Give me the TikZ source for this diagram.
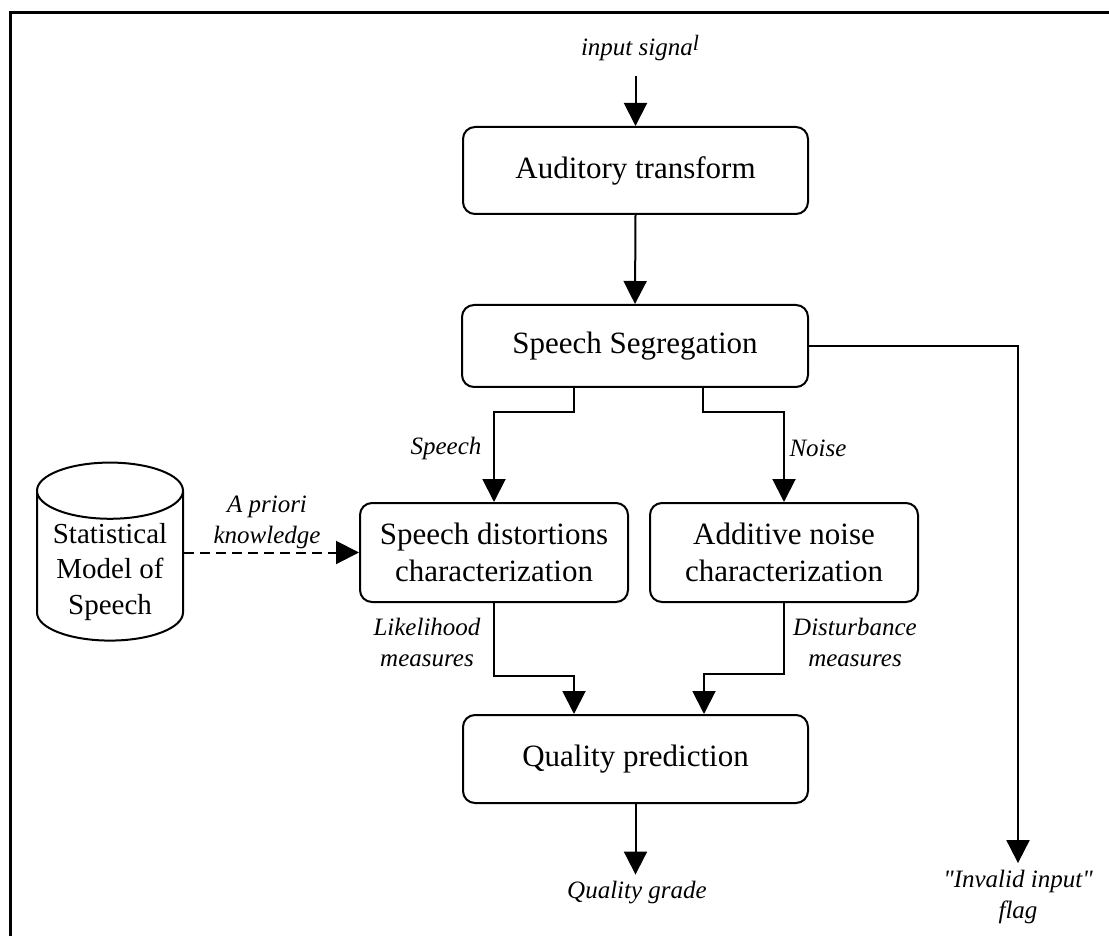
\documentclass[tikz,border=0pt]{standalone}
\usepackage{fontspec}
\setmainfont{Liberation Serif}[Ligatures=TeXOff]
\usetikzlibrary{arrows.meta,shapes.geometric}

\begin{document}
\begin{tikzpicture}[x=0.5pt,y=-0.5pt,
    blk/.style={draw, line width=1pt, rounded corners=6pt, align=center,
        font=\fontsize{15.5}{18.5}\selectfont},
    lbl/.style={align=center, font=\fontsize{12.5}{15.5}\selectfont\itshape},
    arr/.style={line width=1pt, -{Triangle[width=11.5pt,length=11.5pt]}}]
    \useasboundingbox (0,0) rectangle (1109,936);
    \draw[line width=1.5pt] (10,936) -- (10,13) -- (1109,13);

    % blocks
    \node[blk, minimum width=172.5pt, minimum height=43.5pt] (aud) at (635.5,170.5) {Auditory transform};
    \node[blk, minimum width=173pt, minimum height=41pt] (seg) at (635,346) {Speech Segregation};
    \node[blk, minimum width=134pt, minimum height=49.5pt] (sd) at (494,552.5) {Speech distortions\\characterization};
    \node[blk, minimum width=134pt, minimum height=49.5pt] (an) at (784,552.5) {Additive noise\\characterization};
    \node[blk, minimum width=172.5pt, minimum height=44pt] (qp) at (635.5,759) {Quality prediction};
    \node[draw, cylinder, shape border rotate=90, aspect=0.44, line width=1pt, align=center,
        minimum width=73pt, minimum height=89pt, inner ysep=1pt,
        font=\fontsize{14.5}{17.75}\selectfont] (stat) at (110,572) {Statistical\\Model of\\Speech};

    % labels
    \node[lbl] (insig) at (640,48) {input signa\raisebox{0.45ex}{\fontsize{11}{11}\selectfont l}};
    \node[lbl] (lspeech) at (446,448) {Speech};
    \node[lbl] (lnoise) at (818,448) {Noise};
    \node[lbl] (lprior) at (267,522) {A priori\\knowledge};
    \node[lbl] (llike) at (427,642) {Likelihood\\measures};
    \node[lbl] (ldist) at (855,642) {Disturbance\\measures};
    \node[lbl] (grade) at (637,893) {Quality grade};
    \node[lbl] (flag) at (1018,897) {"Invalid input"\\flag};

    % connectors
    \draw[arr, shorten <=4pt] (insig.south -| aud.north) -- (aud.north);
    \draw[arr] (aud.south) -- (seg.north);
    \draw[arr] (seg.east) -| (flag.north);
    \draw[arr] ([xshift=-30.5pt]seg.south) -- ++(0,-12pt) -| (sd.north);
    \draw[arr] ([xshift=34pt]seg.south) -- ++(0,-12pt) -| (an.north);
    \draw[arr, dash pattern=on 5pt off 3pt] (stat.east |- sd.west) -- (sd.west);
    \draw[arr] (sd.south) -- ++(0,-36.5pt) -| ([xshift=-30.75pt]qp.north);
    \draw[arr] (an.south) -- ++(0,-35.5pt) -| ([xshift=34.25pt]qp.north);
    \draw[arr] (qp.south) -- (qp.south |- grade.north);
\end{tikzpicture}
\end{document}
